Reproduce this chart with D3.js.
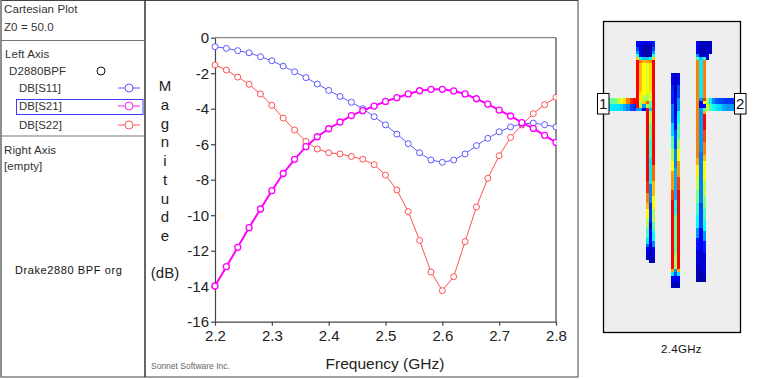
<!DOCTYPE html>
<html>
<head>
<meta charset="utf-8">
<script src="https://cdnjs.cloudflare.com/ajax/libs/d3/7.8.5/d3.min.js"></script>
<style>
	html, body { margin: 0; padding: 0; background: #fff; overflow: hidden; }
	svg { display: block; }
</style>
</head>
<body>
<div id="wrapper"></div>
<script>
// frequency sweep, GHz
const frequency = [2.2, 2.22, 2.24, 2.26, 2.28, 2.3, 2.32, 2.34, 2.36, 2.38, 2.4, 2.42, 2.44, 2.46, 2.48, 2.5,
	2.52, 2.54, 2.56, 2.58, 2.6, 2.62, 2.64, 2.66, 2.68, 2.7, 2.72, 2.74, 2.76, 2.78, 2.8];

// magnitudes in dB
const s11 = [-0.51, -0.6, -0.73, -0.85, -1.07, -1.3, -1.6, -1.92, -2.25, -2.61, -2.97, -3.31, -3.64, -4.0, -4.45, -4.91,
	-5.43, -5.97, -6.48, -6.89, -7.02, -6.89, -6.55, -6.08, -5.67, -5.3, -5.03, -4.85, -4.81, -4.9, -5.03];
const s21 = [-13.99, -12.9, -11.81, -10.7, -9.65, -8.62, -7.65, -6.85, -6.14, -5.58, -5.13, -4.75, -4.39, -4.11, -3.85, -3.59,
	-3.38, -3.17, -2.99, -2.91, -2.91, -3.0, -3.17, -3.44, -3.74, -4.08, -4.41, -4.79, -5.11, -5.5, -5.9];
const s22 = [-1.54, -1.82, -2.22, -2.63, -3.17, -3.81, -4.53, -5.2, -5.84, -6.27, -6.48, -6.55, -6.69, -6.85, -7.15, -7.74,
	-8.58, -9.8, -11.42, -13.2, -14.25, -13.46, -11.49, -9.54, -7.92, -6.65, -5.62, -4.92, -4.28, -3.77, -3.36];

const xTicks = [2.2, 2.3, 2.4, 2.5, 2.6, 2.7, 2.8];
const yTicks = [0, -2, -4, -6, -8, -10, -12, -14, -16];

const yLabelLetters = ["M", "a", "g", "n", "i", "t", "u", "d", "e"];
const traceNames = ["DB[S11]", "DB[S21]", "DB[S22]"];
const sidePanelLines = ["Cartesian Plot", "Z0 = 50.0", "Left Axis", "D2880BPF", "Right Axis", "[empty]"];

// current density map: each entry is [grid column, first grid row, [level, rows], [level, rows] ...]
const leftResonator = [
	[0, 0, [.15, 2], [.22, 1], [.3, 1], [.45, 1], [.75, 1], [1, 15], [.3, 1]],
	[1, 0, [.15, 1], [.1, 4], [.4, 1], [.85, 1], [.78, 9], [.72, 3], [.6, 2], [.3, 1]],
	[2, 0, [.12, 1], [.05, 4], [.35, 1], [.8, 1], [.7, 10], [.62, 2], [.75, 1], [.3, 1], [.15, 1]],
	[3, 0, [.12, 1], [.03, 4], [.35, 1], [.8, 1], [.66, 10], [.6, 2], [.9, 1], [.6, 1], [1, 23], [.95, 4], [.85, 3], [.78, 2], [.7, 3], [.6, 3], [.48, 3], [.38, 2], [.25, 1], [.15, 2], [.08, 2]],
	[4, 0, [.15, 1], [.05, 4], [.4, 1], [.85, 1], [.74, 9], [.65, 3], [.5, 2], [.35, 1], [.6, 4], [.52, 5], [.45, 6], [.38, 8], [.28, 6], [.2, 6], [.13, 7], [.05, 6]],
	[5, 0, [.18, 2], [.22, 1], [.3, 1], [.45, 1], [.75, 1], [1, 33], [.88, 5], [.78, 5], [.7, 4], [.6, 4], [.5, 3], [.4, 3], [.28, 2], [.15, 3], [.06, 2]]
];
const middleResonator = [
	[11, 10, [.14, 4], [.18, 6], [.26, 6], [.36, 4], [.5, 4], [.6, 4], [.7, 3], [.82, 6], [.93, 3], [1, 22], [.8, 1], [.38, 1], [.15, 2], [.08, 2]],
	[12, 10, [.04, 6], [.1, 8], [.16, 4], [.22, 6], [.28, 6], [.32, 10], [.4, 5], [.5, 12], [.58, 5], [.3, 1], [.22, 1], [.1, 2], [.03, 2]],
	[13, 10, [.15, 4], [.22, 4], [.3, 4], [.4, 4], [.5, 5], [.6, 3], [.7, 4], [.82, 5], [.93, 4], [1, 25], [.8, 1], [.38, 1], [.15, 2], [.08, 2]]
];
const rightResonator = [
	[19, 0, [.15, 3], [.13, 1], [.3, 1], [.5, 1], [.85, 31], [.8, 2], [.72, 4], [.63, 4], [.55, 4], [.47, 4], [.4, 4], [.3, 3], [.17, 4], [.1, 5], [.04, 5]],
	[20, 0, [.05, 5], [.35, 1], [.38, 12], [.3, 1], [.15, 2], [.3, 14], [.27, 16], [.22, 8], [.13, 7], [.08, 7], [.03, 3]],
	[21, 0, [.05, 4], [.12, 1], [.45, 1], [.85, 12], [.95, 1], [.7, 1], [.15, 1], [.5, 1], [.8, 1], [1, 5], [.92, 4], [.85, 4], [.78, 2], [.7, 6], [.62, 5], [.55, 4], [.47, 4], [.4, 3], [.3, 3], [.18, 4], [.1, 7], [.04, 2]],
	[22, 0, [.08, 6]],
	[23, 0, [.07, 4]]
];
const leftFeed = [
	[-9, 18, [.5, 2], [.38, 2]], [-8, 18, [.52, 2], [.38, 2]], [-7, 18, [.55, 2], [.38, 2]],
	[-6, 18, [.6, 2], [.37, 2]], [-5, 18, [.68, 2], [.36, 2]], [-4, 18, [.74, 2], [.32, 2]],
	[-3, 18, [.85, 2], [.28, 2]], [-2, 18, [.95, 2], [.22, 2]], [-1, 18, [1, 2], [.2, 2]]
];
const rightFeed = [
	[22, 18, [.6, 2], [.65, 2]], [23, 18, [.38, 2], [.48, 2]], [24, 18, [.28, 2], [.42, 2]],
	[25, 18, [.24, 2], [.38, 2]], [26, 18, [.22, 2], [.36, 2]], [27, 18, [.21, 2], [.32, 2]],
	[28, 18, [.2, 2], [.3, 2]], [29, 18, [.2, 2], [.3, 2]], [30, 18, [.2, 2], [.3, 2]]
];

const width = 778;
const height = 379;

const wrapper = d3.select("#wrapper").append("svg")
	.attr("width", width)
	.attr("height", height)
	.attr("font-family", "'Liberation Sans', Arial, sans-serif");

wrapper.append("defs").append("clipPath").attr("id", "plotClip")
	.append("rect").attr("x", 205).attr("y", 30).attr("width", 351.5).attr("height", 300);

/* ---------- frame and side panel ---------- */
const frame = wrapper.append("g");
frame.append("rect").attr("x", 1).attr("y", 0.5).attr("width", 577).attr("height", 376.5)
	.attr("fill", "none").attr("stroke", "#444");
frame.append("line").attr("x1", 1).attr("x2", 1).attr("y1", 0).attr("y2", 377).attr("stroke", "#888").attr("stroke-width", 1.5);
frame.append("line").attr("x1", 145).attr("x2", 145).attr("y1", 0).attr("y2", 377).attr("stroke", "#333").attr("stroke-width", 1.5);
[40.5, 136].forEach(y => {
	frame.append("line").attr("x1", 1).attr("x2", 145).attr("y1", y).attr("y2", y).attr("stroke", "#777").attr("stroke-width", 1.2);
});

const sideX = [4, 4, 5, 9, 4, 4];
const sideY = [13, 31, 58, 75, 154, 170];
sidePanelLines.forEach((t, i) => {
	wrapper.append("text").attr("x", sideX[i]).attr("y", sideY[i]).text(t)
		.attr("font-size", "11.5px").attr("fill", "#333").attr("letter-spacing", "0.1px");
});
wrapper.append("circle").attr("cx", 101).attr("cy", 71).attr("r", 4)
	.attr("fill", "none").attr("stroke", "#111");

const traceColors = ["#5a5aff", "#ff1cff", "#ff5a5a"];
const legendY = [88, 106, 125];
wrapper.append("rect").attr("x", 16.5).attr("y", 99.5).attr("width", 126.5).attr("height", 15)
	.attr("fill", "none").attr("stroke", "#3c3cff");
traceNames.forEach((t, i) => {
	wrapper.append("text").attr("x", 19).attr("y", legendY[i] + 4).text(t)
		.attr("font-size", "11.5px").attr("fill", "#333");
	wrapper.append("line").attr("x1", 118).attr("x2", 140).attr("y1", legendY[i]).attr("y2", legendY[i])
		.attr("stroke", traceColors[i]);
	wrapper.append("circle").attr("cx", 129).attr("cy", legendY[i]).attr("r", 4)
		.attr("fill", "#fff").attr("stroke", traceColors[i]);
});

wrapper.append("text").attr("x", 15).attr("y", 274).text("Drake2880 BPF org")
	.attr("font-size", "11px").attr("fill", "#111").attr("letter-spacing", "0.6px");

/* ---------- plot ---------- */
const xScaler = d3.scaleLinear().domain([2.2, 2.8]).range([215, 556]);
const yScaler = d3.scaleLinear().domain([0, -16]).range([37.7, 321.7]);

const xAxisGen = d3.axisBottom(xScaler).tickValues(xTicks).tickFormat(d3.format(".1f")).tickSizeInner(4).tickSizeOuter(0);
const yAxisGen = d3.axisLeft(yScaler).tickValues(yTicks).tickFormat(d => String(d)).tickSizeInner(4).tickSizeOuter(0);

wrapper.append("line").attr("x1", xScaler(2.2)).attr("x2", xScaler(2.8)).attr("y1", yScaler(0)).attr("y2", yScaler(0))
	.attr("stroke", "#888").attr("stroke-width", 1.2);
wrapper.append("line").attr("x1", xScaler(2.8)).attr("x2", xScaler(2.8)).attr("y1", yScaler(0)).attr("y2", yScaler(-16))
	.attr("stroke", "#444").attr("stroke-width", 1.2);

const axisX = wrapper.append("g").attr("transform", `translate(0,${yScaler(-16)})`).call(xAxisGen);
const axisY = wrapper.append("g").attr("transform", `translate(${xScaler(2.2)},0)`).call(yAxisGen);
[axisX, axisY].forEach(a => {
	a.selectAll("path, line").attr("stroke", "#444").attr("stroke-width", 1.2);
	a.selectAll("text").attr("font-size", "15px").attr("fill", "#222").attr("font-family", "'Liberation Sans', Arial, sans-serif");
});
axisX.selectAll("text").attr("dy", "0.85em");
axisY.selectAll("text").attr("x", -6);

const lineGen = d3.line().x((d, i) => xScaler(frequency[i])).y(d => yScaler(d));
const plot = wrapper.append("g").attr("clip-path", "url(#plotClip)");

const drawTrace = (values, color, lineWidth, markerWidth) => {
	plot.append("path").datum(values).attr("d", lineGen)
		.attr("fill", "none").attr("stroke", color).attr("stroke-width", lineWidth);
	plot.append("g").selectAll("circle").data(values).enter().append("circle")
		.attr("cx", (d, i) => xScaler(frequency[i]))
		.attr("cy", d => yScaler(d))
		.attr("r", 3)
		.attr("fill", "#fff")
		.attr("stroke", color)
		.attr("stroke-width", markerWidth);
};
drawTrace(s22, "#ff5050", 1, 1);
drawTrace(s11, "#5a5aff", 1, 1);
drawTrace(s21, "#ff00ff", 2, 1.3);

// vertical axis title, one letter per line
const letterY = d3.scalePoint().domain(d3.range(yLabelLetters.length)).range([91, 241]);
wrapper.append("g").selectAll("text").data(yLabelLetters).enter().append("text")
	.attr("x", 165)
	.attr("y", (d, i) => letterY(i))
	.attr("text-anchor", "middle")
	.attr("font-size", "15px")
	.attr("fill", "#222")
	.text(d => d);
wrapper.append("text").attr("x", 165).attr("y", 278).attr("text-anchor", "middle")
	.attr("font-size", "15px").attr("fill", "#222").text("(dB)");
wrapper.append("text").attr("x", 385).attr("y", 369).attr("text-anchor", "middle")
	.attr("font-size", "15.5px").attr("fill", "#222").text("Frequency (GHz)");
wrapper.append("text").attr("x", 151).attr("y", 369)
	.attr("font-size", "8.5px").attr("fill", "#666").text("Sonnet Software Inc.");

/* ---------- current density map ---------- */
wrapper.append("rect").attr("x", 603.5).attr("y", 21.5).attr("width", 137).attr("height", 311)
	.attr("fill", "#eeeeee").attr("stroke", "#000").attr("stroke-width", 1.3);

const gridX = d3.scaleLinear().domain([0, 21]).rangeRound([636, 702.6]);
const gridY = d3.scaleLinear().domain([0, 78]).rangeRound([41, 288.3]);
const jet = d3.scaleLinear()
	.domain([0, .15, .4, .55, .7, .85, 1])
	.range(["#00008f", "#0000ff", "#00ffff", "#80ff80", "#ffff00", "#ff8000", "#ff0000"]);

const cells = [];
[leftResonator, middleResonator, rightResonator, leftFeed, rightFeed].forEach(block => {
	block.forEach(([col, firstRow, ...runs]) => {
		let row = firstRow;
		runs.forEach(([level, count]) => {
			cells.push({col: col, row: row, count: count, level: level});
			row += count;
		});
	});
});

wrapper.append("g").attr("shape-rendering", "crispEdges").selectAll("rect").data(cells).enter().append("rect")
	.attr("x", d => gridX(d.col))
	.attr("y", d => gridY(d.row))
	.attr("width", d => gridX(d.col + 1) - gridX(d.col))
	.attr("height", d => gridY(d.row + d.count) - gridY(d.row))
	.attr("fill", d => jet(d.level));

const portX = [gridX(-9) - 9.5, gridX(31) + 0.5];
["1", "2"].forEach((t, i) => {
	wrapper.append("rect").attr("x", portX[i]).attr("y", 93.5).attr("width", 11.5).attr("height", 20.5)
		.attr("fill", "#fff").attr("stroke", "#000");
	wrapper.append("text").attr("x", portX[i] + 5.75).attr("y", 109).attr("text-anchor", "middle")
		.attr("font-size", "15px").attr("fill", "#111").attr("font-weight", "300").text(t);
});
wrapper.append("text").attr("x", 681.5).attr("y", 353).attr("text-anchor", "middle")
	.attr("font-size", "11.5px").attr("fill", "#111").attr("letter-spacing", "0.3px").text("2.4GHz");
</script>
</body>
</html>
